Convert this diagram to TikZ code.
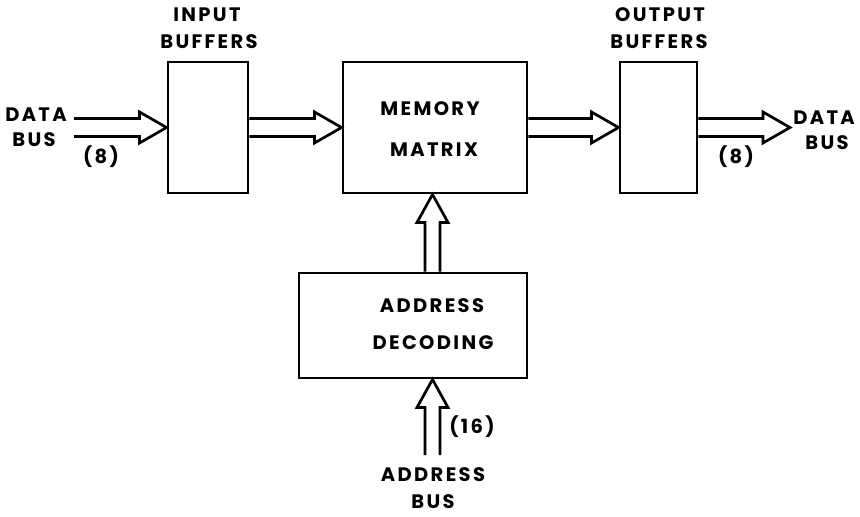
\documentclass[tikz,border=0pt]{standalone}
\usepackage{fontspec}
\setmainfont{Poppins}[LetterSpace=12]
\usetikzlibrary{calc}
\tikzset{
  blk/.style={draw, line width=2.9pt, inner sep=0pt},
  lbl/.style={font=\bfseries\fontsize{19.5}{19.5}\selectfont, inner sep=0pt, anchor=center},
  fat/.style={line width=2.7pt, line join=miter},
}
% horizontal fat arrow: tail coordinate #1, tip coordinate #2 (same y)
\newcommand\hfat[2]{%
  \draw[fat] ($(#1)+(0,-9)$) -- ($(#2)+(-27,-9)$) -- ($(#2)+(-27,-15.5)$) -- (#2)
    -- ($(#2)+(-27,15.5)$) -- ($(#2)+(-27,9)$) -- ($(#1)+(0,9)$);}
% vertical fat arrow pointing up: tail #1, tip #2 (same x)
\newcommand\vfat[2]{%
  \draw[fat] ($(#1)+(-7.5,0)$) -- ($(#2)+(-7.5,28)$) -- ($(#2)+(-15.5,28)$) -- (#2)
    -- ($(#2)+(15.5,28)$) -- ($(#2)+(7.5,28)$) -- ($(#1)+(7.5,0)$);}
\begin{document}
\begin{tikzpicture}[x=1pt,y=-1pt]
\useasboundingbox (0,0) rectangle (860,517);
% boxes
\node[blk, minimum width=80pt, minimum height=131pt] (ib) at (208,127.5) {};
\node[blk, minimum width=184pt, minimum height=131pt] (mm) at (435,127.5) {};
\node[blk, minimum width=77pt, minimum height=131pt] (ob) at (658.5,127.5) {};
\node[blk, minimum width=228pt, minimum height=105pt] (ad) at (413,325.5) {};
% labels
\node[lbl] (t1) at (207,15) {INPUT};
\node[lbl] (t2) at (209,42) {BUFFERS};
\node[lbl] (t3) at (660,15) {OUTPUT};
\node[lbl] (t4) at (659,42) {BUFFERS};
\node[lbl] (t5) at (430,109) {MEMORY};
\node[lbl] (t6) at (434,150) {MATRIX};
\node[lbl] (t7) at (432,306) {ADDRESS};
\node[lbl] (t8) at (433,343) {DECODING};
\node[lbl] (t9) at (36,115) {DATA};
\node[lbl] (t10) at (34,140) {BUS};
\node[lbl] (t11) at (101,157) {(8)};
\node[lbl] (t12) at (824,118) {DATA};
\node[lbl] (t13) at (827,143) {BUS};
\node[lbl] (t14) at (736,157) {(8)};
\node[lbl] (t15) at (472,427) {(16)};
\node[lbl] (t16) at (433,475) {ADDRESS};
\node[lbl] (t17) at (433,502) {BUS};
% free ends
\coordinate (din) at (74,127.5);
\coordinate (dout) at (790,127.5);
\coordinate (ain) at (432.5,455);
% connectors
\hfat{din}{ib.west}
\hfat{ib.east}{mm.west}
\hfat{mm.east}{ob.west}
\hfat{ob.east}{dout}
\coordinate (mmb) at (432.5,0 |- mm.south);
\coordinate (adt) at (432.5,0 |- ad.north);
\coordinate (adb) at (432.5,0 |- ad.south);
\vfat{adt}{mmb}
\vfat{ain}{adb}
\end{tikzpicture}
\end{document}
